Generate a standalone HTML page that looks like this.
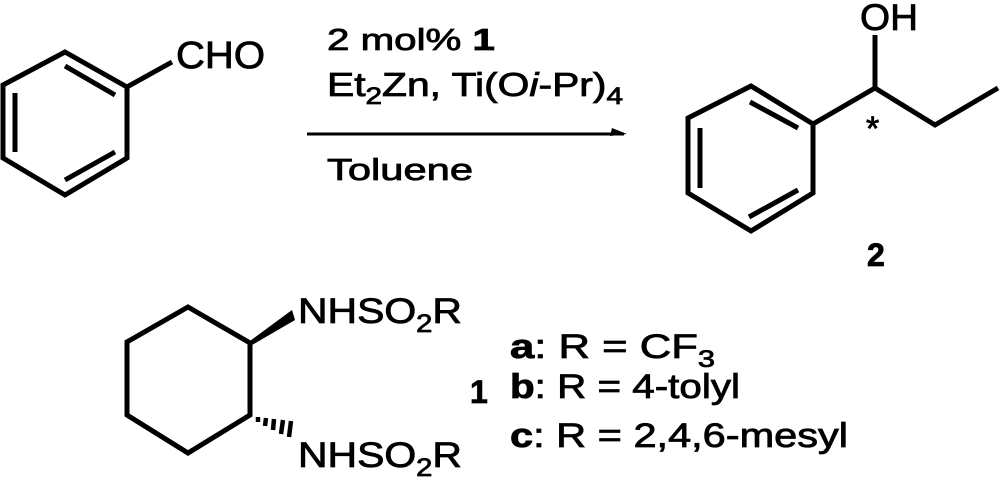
<!DOCTYPE html>
<html><head><style>html,body{margin:0;padding:0;background:#fff}svg{display:block}</style></head>
<body>
<svg width="1000" height="480" viewBox="0 0 1000 480" xmlns="http://www.w3.org/2000/svg" font-family="Liberation Sans, Arial, sans-serif" fill="#000">
<g stroke="#000" stroke-width="5" fill="none" stroke-linejoin="miter" stroke-linecap="butt">
<polygon points="65,52 127,87 127,158 65,195 3,158 3,85"/>
<line x1="65" y1="66" x2="115" y2="95"/>
<line x1="15" y1="93" x2="15" y2="152"/>
<line x1="65" y1="180" x2="115" y2="152"/>
<line x1="127" y1="87" x2="172" y2="62"/>
<polygon points="751,86 813,124 813,193 751,231 688,193 688,118"/>
<line x1="750" y1="102" x2="798" y2="128"/>
<line x1="700" y1="128" x2="700" y2="188"/>
<line x1="749" y1="217" x2="798" y2="190"/>
<polyline points="813,124 875,88 935,125 998,88"/>
<line x1="875" y1="88" x2="875" y2="35"/>
<line x1="307" y1="134" x2="624" y2="134" stroke-width="3"/>
<polygon points="188,307 250,343 250,415 188,453 127,415 127,342"/>
<g stroke-width="4.5">
<line x1="258" y1="417" x2="258" y2="422"/>
<line x1="266" y1="418" x2="265" y2="426"/>
<line x1="274" y1="419" x2="273" y2="430"/>
<line x1="283" y1="420" x2="281" y2="434"/>
<line x1="291" y1="421" x2="289" y2="437"/>
</g>
</g>
<polygon points="612,128 627,134 610,136"/>
<polygon points="250,341 292,310 295,320 252,345"/>
<g stroke="#000" stroke-width="0.8">
<text x="176" y="68" font-size="38" textLength="89" lengthAdjust="spacingAndGlyphs">CHO</text>
<text x="860" y="30" font-size="37" textLength="58" lengthAdjust="spacingAndGlyphs">OH</text>
<text x="866" y="140" font-size="34">*</text>
<text x="867" y="266" font-size="32" font-weight="bold">2</text>
<text x="327" y="50" font-size="31" textLength="168" lengthAdjust="spacingAndGlyphs">2 mol% <tspan font-weight="bold">1</tspan></text>
<text x="327" y="96" font-size="33" textLength="296" lengthAdjust="spacingAndGlyphs">Et<tspan font-size="24" dy="8">2</tspan><tspan dy="-8">Zn, Ti(O</tspan><tspan font-style="italic">i</tspan>-Pr)<tspan font-size="24" dy="8">4</tspan></text>
<text x="327" y="180" font-size="31" textLength="146" lengthAdjust="spacingAndGlyphs">Toluene</text>
<text x="298" y="323" font-size="35" textLength="164" lengthAdjust="spacingAndGlyphs">NHSO<tspan font-size="25" dy="9">2</tspan><tspan dy="-9">R</tspan></text>
<text x="298" y="467" font-size="35" textLength="164" lengthAdjust="spacingAndGlyphs">NHSO<tspan font-size="25" dy="9">2</tspan><tspan dy="-9">R</tspan></text>
<text x="470" y="403" font-size="32" font-weight="bold">1</text>
<text x="510" y="358" font-size="34" textLength="205" lengthAdjust="spacingAndGlyphs"><tspan font-weight="bold">a</tspan>: R = CF<tspan font-size="24" dy="9">3</tspan></text>
<text x="510" y="398" font-size="34" textLength="230" lengthAdjust="spacingAndGlyphs"><tspan font-weight="bold">b</tspan>: R = 4-tolyl</text>
<text x="510" y="447" font-size="34" textLength="338" lengthAdjust="spacingAndGlyphs"><tspan font-weight="bold">c</tspan>: R = 2,4,6-mesyl</text>
</g>
</svg>
</body></html>
